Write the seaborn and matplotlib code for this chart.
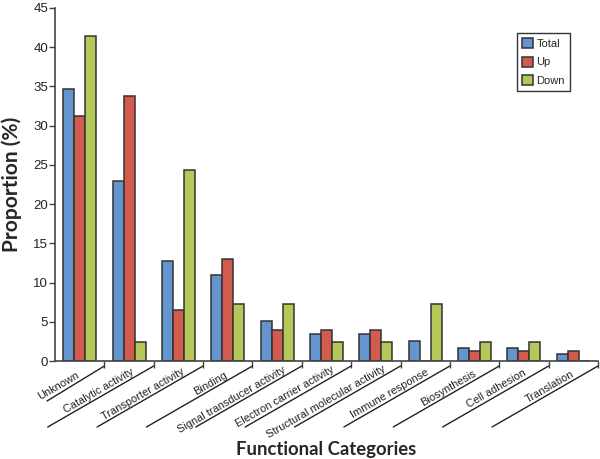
import matplotlib
matplotlib.use("Agg")
import matplotlib.pyplot as plt
import matplotlib.transforms as mtransforms
import seaborn as sns
import pandas as pd

categories = ["Unknown", "Catalytic activity", "Transporter activity", "Binding",
              "Signal transducer activity", "Electron carrier activity",
              "Structural molecular activity", "Immune response", "Biosynthesis",
              "Cell adhesion", "Translation"]
total = [34.7, 22.9, 12.7, 11.0, 5.1, 3.4, 3.4, 2.5, 1.7, 1.7, 0.85]
up = [31.2, 33.8, 6.5, 13.0, 3.9, 3.9, 3.9, 0.0, 1.3, 1.3, 1.3]
down = [41.4, 2.4, 24.4, 7.3, 7.3, 2.4, 2.4, 7.3, 2.4, 2.4, 0.0]
series = ["Total", "Up", "Down"]
colors = ["#6595CE", "#D25B4D", "#B4C85A"]

df = pd.DataFrame({
    "Category": categories * 3,
    "Series": [s for s in series for _ in categories],
    "Value": total + up + down,
})

sns.set_style("white")
plt.rcParams["font.family"] = ["Liberation Sans", "DejaVu Sans"]
ARIAL = ["Liberation Sans", "DejaVu Sans"]

fig = plt.figure(figsize=(6, 4.59), dpi=100)
ax = fig.add_axes([55 / 600, 1 - 361 / 459, 543 / 600, 353 / 459])

sns.barplot(data=df, x="Category", y="Value", hue="Series", hue_order=series,
            order=categories, palette=colors, width=0.67, saturation=1,
            edgecolor="#333333", linewidth=1.1, ax=ax)

n = len(categories)
ax.set_xlim(-0.5, n - 0.5)
ax.set_ylim(0, 45)
ax.set_yticks(range(0, 46, 5))
ax.set_yticklabels([str(v) for v in range(0, 46, 5)], family=ARIAL)
for s in ["top", "right"]:
    ax.spines[s].set_visible(False)
for s in ["left", "bottom"]:
    ax.spines[s].set_color("#444444")
    ax.spines[s].set_linewidth(1.2)

ax.tick_params(axis="y", direction="out", length=4, width=1, color="#444444",
               labelsize=9.5, labelcolor="#222222", pad=1, left=True)
ax.set_xticks([])
ax.set_xticks([i + 0.5 for i in range(n)], minor=True)
ax.tick_params(axis="x", which="minor", direction="out", length=5, width=1,
               color="#444444", bottom=True, labelbottom=False)

trans = mtransforms.blended_transform_factory(ax.transData, ax.transAxes)
px_x = n / 543.0
px_y = 1 / 353.0
half_px = 543.0 / n / 2

# category labels, sitting just above the slanted separator line
for i, lab in enumerate(categories):
    dx = -0.2 + 0.5 * (len(lab) - 7)
    dy = 1.5 + (half_px - dx) * 0.575
    ax.text(i + dx * px_x, -dy * px_y, lab, transform=trans, rotation=30,
            rotation_mode="anchor", ha="right", va="baseline", fontsize=7.9,
            color="#222222", family=ARIAL)

# slanted separator lines (Excel style)
for i in range(n):
    b = i + 0.5
    if i == 0:
        x_end = -0.5 + (47 - 55) * px_x
        y_end = -40 * px_y
    else:
        x_end = b - 106 * px_x
        y_end = -66 * px_y
    ax.plot([b, x_end], [-5 * px_y, y_end], transform=trans, color="#222222",
            lw=1.0, clip_on=False)

ax.set_xlabel("")
ax.set_ylabel("")
fig.text(12 / 600, 1 - 184 / 459, "Proportion (%)", rotation=90, ha="center",
         va="center", fontsize=15, fontweight="bold", family=["Lato", "DejaVu Sans"])
fig.text(326 / 600, 1 - 449 / 459, "Functional Categories", ha="center",
         va="center", fontsize=13.3, fontweight="bold", family=["Lato", "DejaVu Sans"])

leg = ax.legend(loc="upper right", bbox_to_anchor=(570 / 600, 1 - 33 / 459),
                bbox_transform=fig.transFigure, borderaxespad=0,
                prop={"family": ARIAL, "size": 8},
                handlelength=1.0, handleheight=1.0, handletextpad=0.35,
                labelspacing=0.7, borderpad=0.45, fancybox=False, framealpha=1,
                edgecolor="#333333", title=None)
leg.get_frame().set_linewidth(1.0)

fig.savefig("out.png", dpi=100)
